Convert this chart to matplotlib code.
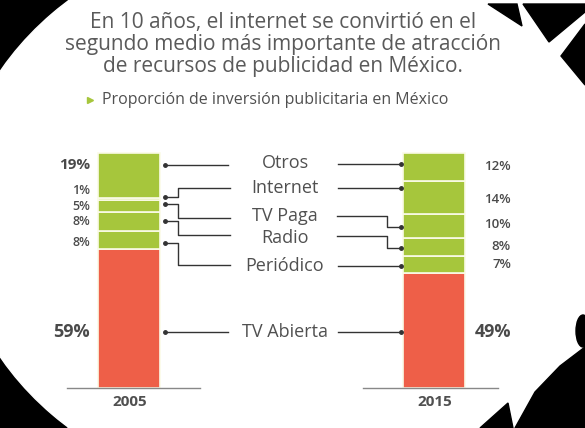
import matplotlib.pyplot as plt
from matplotlib.patches import Ellipse, Polygon

plt.rcParams['font.family'] = ['Open Sans', 'DejaVu Sans']

# datos (porcentaje de inversion publicitaria)
years = ['2005', '2015']
medios = ['TV Abierta', 'Periódico', 'Radio', 'TV Paga', 'Internet', 'Otros']
share_2005 = [59, 8, 8, 5, 1, 19]
share_2015 = [49, 7, 8, 10, 14, 12]

verde = '#a6c63c'
rojo = '#ee5f48'
gris = '#505050'
oscuro = '#333333'

fig = plt.figure(figsize=(5.85, 4.28), dpi=100, facecolor='black')

# fondo: circulo blanco sobre negro + recortes decorativos
bg = fig.add_axes((0, 0, 1, 1))
bg.set_xlim(0, 585)
bg.set_ylim(428, 0)
bg.axis('off')
bg.add_patch(Ellipse((286, 214), 662, 566, color='white'))
bg.add_patch(Polygon([(440, 0), (585, 0), (585, 428), (440, 428)], color='white'))
for pts in [[(488, 4), (517, 4), (522, 26)],
            [(523, 4), (585, 4), (585, 12), (549, 42)],
            [(585, 24), (585, 85), (561, 56)],
            [(515, 428), (535, 392), (560, 366), (585, 347), (585, 428)],
            [(480, 428), (508, 403), (513, 428)]]:
    bg.add_patch(Polygon(pts, color='black'))
bg.add_patch(Ellipse((583, 331), 14, 32, color='black'))
bg.plot([70, 110], [430, 400], color='white', lw=5)

# ejes del grafico: x en pixeles, y en porcentaje (0 = base de la barra)
ppx = 2.35
base = 388
Y = lambda p: (base - p) / ppx

ax = fig.add_axes((0, 0, 1, 1))
ax.patch.set_alpha(0)
ax.set_xlim(0, 585)
ax.set_ylim(Y(428), Y(0))
ax.axis('off')

bar_x = [129, 434]
for x, vals in zip(bar_x, [share_2005, share_2015]):
    bottom = 0
    for i, v in enumerate(vals):
        ax.bar(x, v, 62, bottom=bottom, color=rojo if i == 0 else verde,
               edgecolor='#fbfbe8', linewidth=1.2)
        bottom += v

ax.plot([67, 200], [0, 0], color='#888888', lw=1)
ax.plot([363, 498], [0, 0], color='#888888', lw=1)
for x, yr in zip(bar_x, years):
    ax.text(x + 1, Y(402), yr, ha='center', va='center', fontsize=11,
            fontweight='bold', color=gris)

# etiquetas de categoria (de arriba a abajo)
cat_y = [332, 266, 238, 216, 188, 163]
for m, yy in zip(medios, cat_y):
    ax.text(285, Y(yy), m, ha='center', va='center', fontsize=13, color=gris)

# porcentajes 2005
left_y = [332, 243, 222, 207, 191, 165]
for v, yy, in zip(share_2005, left_y):
    big = v >= 19
    ax.text(90, Y(yy), f'{v}%', ha='right', va='center',
            fontsize=13 if v > 50 else (11 if big else 9),
            fontweight='bold' if big else 'semibold', color='#4a4a4a')

# porcentajes 2015
right_y = [332, 265, 247, 225, 200, 167]
for v, yy in zip(share_2015, right_y):
    ax.text(511, Y(yy), f'{v}%', ha='right', va='center',
            fontsize=13 if v > 40 else 9.5,
            fontweight='bold' if v > 40 else 'semibold', color='#4a4a4a')

# conectores izquierda: (punto en barra, linea hacia etiqueta)
left_dot = [332, 243, 221, 204, 197, 165]
left_end = [332, 265, 235, 218, 188, 165]
for d, e in zip(left_dot, left_end):
    if d == e:
        ax.plot([165, 228], [Y(d), Y(e)], color=oscuro, lw=1)
    else:
        ax.plot([165, 178, 178, 230], [Y(d), Y(d), Y(e), Y(e)], color=oscuro, lw=1)
    ax.plot(165, Y(d), 'o', color=oscuro, ms=2.5)

# conectores derecha
right_dot = [332, 266, 248, 227, 188, 164]
right_start = [332, 266, 236, 216, 188, 164]
for d, s in zip(right_dot, right_start):
    if d == s:
        ax.plot([338, 401], [Y(s), Y(d)], color=oscuro, lw=1)
    else:
        ax.plot([337, 387, 387, 401], [Y(s), Y(s), Y(d), Y(d)], color=oscuro, lw=1)
    ax.plot(401, Y(d), 'o', color=oscuro, ms=2.5)

# titulo
titulo = ['En 10 años, el internet se convirtió en el',
          'segundo medio más importante de atracción',
          'de recursos de publicidad en México.']
for t, yy in zip(titulo, [23, 45, 67]):
    ax.text(283, Y(yy), t, ha='center', va='center', fontsize=15, color='#5a5a5a')

ax.plot(90, Y(100), '>', color=verde, ms=4)
ax.text(102, Y(100), 'Proporción de inversión publicitaria en México',
        ha='left', va='center', fontsize=11.5, color=gris)

fig.savefig('out.png', dpi=100, facecolor='black')
